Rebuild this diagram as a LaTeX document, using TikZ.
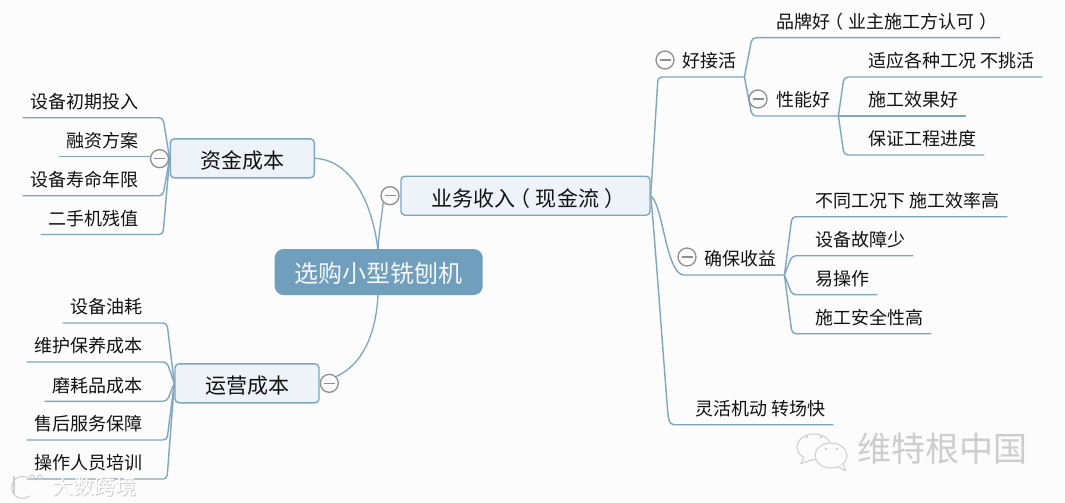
\documentclass[tikz,border=0pt]{standalone}
\usepackage{fontspec}
\setmainfont{Noto Sans CJK SC}
\usetikzlibrary{calc}
\pgfdeclarelayer{back}
\pgfsetlayers{back,main}
\definecolor{pagebg}{HTML}{FCFCFC}
\definecolor{linec}{HTML}{7FA6C0}
\definecolor{boxfill}{HTML}{EEF3F9}
\definecolor{rootfill}{HTML}{709FBD}
\definecolor{inkc}{HTML}{111111}
\definecolor{markc}{HTML}{8F8F8F}
\definecolor{wmark}{HTML}{CDCDCD}
\newcommand{\lpar}{\kern-.27em（\kern.27em}
\newcommand{\rpar}{\kern.27em）\kern-.27em}
\tikzset{
  conn/.style={draw=linec,line width=1.4pt,rounded corners=4pt,line join=round},
  curveconn/.style={draw=linec,line width=1.3pt},
  rootbox/.style={fill=rootfill,rounded corners=9pt,minimum width=208pt,minimum height=46pt,inner sep=0pt,text=white!92!rootfill,text height=24pt,text depth=3pt,font=\fontsize{24}{26}\selectfont},
  branchbox/.style={draw=linec,line width=1.4pt,fill=boxfill,rounded corners=4pt,inner sep=0pt,text=inkc,text height=23pt,text depth=2pt,font=\fontsize{21}{23}\selectfont},
  leafL/.style={anchor=south east,inner xsep=8pt,inner ysep=0pt,minimum height=28pt,text height=14pt,text depth=4pt,text=inkc,font=\fontsize{18}{20}\selectfont},
  leafR/.style={leafL,anchor=south west},
  minus/.style={circle,draw=markc,line width=1.3pt,fill=pagebg,minimum size=18pt,inner sep=0pt,
    path picture={\draw[markc,line width=1.3pt] ([xshift=3.5pt]path picture bounding box.west) -- ([xshift=-3.5pt]path picture bounding box.east);}},
  bubble/.style={draw=wmark,line width=1pt,fill=pagebg},
  wmarktext/.style={text=wmark,inner sep=0pt,font=\fontsize{34}{36}\selectfont},
  wsmall/.style={inner sep=0pt,anchor=west,font=\fontsize{21}{23}\selectfont},
}
\newcommand{\kid}[3]{\draw[conn] (#1) -- (#2 |- #3.south) -- (#3.south east) -- (#3.south west);}
\newcommand{\kidR}[3]{\draw[conn] (#1) -- (#2 |- #3.south) -- (#3.south west) -- (#3.south east);}
\begin{document}
\begin{tikzpicture}[x=1pt,y=-1pt]
\useasboundingbox (0,0) rectangle (1065,503);
\begin{pgfonlayer}{back}
\fill[pagebg] (0,0) rectangle (1065,503);
\end{pgfonlayer}

% root and branches
\node[rootbox] (root) at (378.7,272) {选购小型铣刨机};
\node[branchbox,minimum width=144pt,minimum height=39pt] (zj) at (242.3,158.3) {资金成本};
\node[branchbox,minimum width=144pt,minimum height=39pt] (yy) at (247,383.3) {运营成本};
\node[branchbox,minimum width=249pt,minimum height=39pt] (yw) at (525.5,195.7) {业务收入\lpar 现金流\rpar};

% minus marks
\node[minus] (mzj) at (159.5,158.7) {};
\node[minus] (myy) at (329.3,383.3) {};
\node[minus] (myw) at (390,195.7) {};
\node[minus] (mhj) at (665,60) {};
\node[minus] (mxn) at (758,99) {};
\node[minus] (mqb) at (687,257) {};

% left leaves, upper group
\node[leafL] (a1) at (147,117.7) {设备初期投入};
\node[leafL] (a2) at (147,156.5) {融资方案};
\node[leafL] (a3) at (147,195.7) {设备寿命年限};
\node[leafL] (a4) at (147,234.5) {二手机残值};
% left leaves, lower group
\node[leafL] (b1) at (151,323) {设备油耗};
\node[leafL] (b2) at (151,362) {维护保养成本};
\node[leafL] (b3) at (151,401.3) {磨耗品成本};
\node[leafL] (b4) at (151,440) {售后服务保障};
\node[leafL] (b5) at (151,479) {操作人员培训};
% right: sub-branches
\node[leafR] (hj) at (674,77) {好接活};
\node[leafR] (qb) at (696,275) {确保收益};
\node[leafR] (lh) at (687,424.7) {灵活机动 转场快};
\node[leafR] (pp) at (768,37.7) {品牌好\lpar 业主施工方认可\rpar};
\node[leafR] (xn) at (768,116) {性能好};
\node[leafR] (x1) at (860,77) {适应各种工况 不挑活};
\node[leafR] (x2) at (860,116) {施工效果好};
\node[leafR] (x3) at (860,155) {保证工程进度};
\node[leafR] (q1) at (807,216.7) {不同工况下 施工效率高};
\node[leafR] (q2) at (807,255.7) {设备故障少};
\node[leafR] (q3) at (807,294.7) {易操作};
\node[leafR] (q4) at (807,333.7) {施工安全性高};

\coordinate (ca) at (163,0);
\coordinate (cb) at (167,0);
\coordinate (ch) at (658,0);
\coordinate (cp) at (752,0);
\coordinate (cx) at (844,0);
\coordinate (cq) at (792,0);
\coordinate (cl) at (670,0);

\begin{pgfonlayer}{back}
% root connectors
\draw[curveconn] (378,250) .. controls (372,200) and (350,160) .. (zj.east);
\draw[curveconn] (378,250) .. controls (379,230) and (382,215) .. (myw.south west);
\draw[curveconn] (378,295) .. controls (376,335) and (362,365) .. (myy.north east);
% upper-left group
\kid{zj.west}{ca}{a1}
\draw[conn] (a2.south west) -- (mzj.west |- a2.south);
\kid{zj.west}{ca}{a3}
\kid{zj.west}{ca}{a4}
% lower-left group
\kid{yy.west}{cb}{b1}
\kid{yy.west}{cb}{b2}
\kid{yy.west}{cb}{b3}
\kid{yy.west}{cb}{b4}
\kid{yy.west}{cb}{b5}
% business income
\kidR{yw.east}{ch}{hj}
\draw[conn,rounded corners=0pt] (yw.east) .. controls (663,204) and (666,275) .. (684,275) -- (qb.south west) -- (qb.south east);
\draw[conn] (yw.east) .. controls (655,240) and (662,340) .. (668,415) -- (cl |- lh.south) -- (lh.south east);
% good-to-take-on
\kidR{hj.south east}{cp}{pp}
\kidR{hj.south east}{cp}{xn}
\kidR{xn.south east}{cx}{x1}
\draw[conn] (xn.south east) -- (x2.south east);
\kidR{xn.south east}{cx}{x3}
% revenue assurance
\kidR{qb.south east}{cq}{q1}
\kidR{qb.south east}{cq}{q2}
\kidR{qb.south east}{cq}{q3}
\kidR{qb.south east}{cq}{q4}
\end{pgfonlayer}

% watermark, lower right
\node[wmarktext,anchor=west] (wm) at (857,449) {维特根中国};
\draw[bubble] (814,447) ellipse [x radius=17,y radius=13];
\draw[bubble] (804,457) -- (801,463.5) -- (813,459.5);
\draw[bubble] (831,455.5) ellipse [x radius=16,y radius=12.5];
\draw[bubble] (838,467) -- (845.5,470.5) -- (843,464);
\fill[wmark] (807,437) circle (1.3) (821,437) circle (1.3) (826,449) circle (1.3) (837,449) circle (1.3);

% watermark, lower left
\node[wsmall,text=wmark] (wl2) at (53.2,487.8) {大数跨境};
\node[wsmall,text=white] (wl) at (52,486.6) {大数跨境};
\draw[white,line width=3.2pt,line cap=round] (28,478) arc [start angle=-50,end angle=-310,radius=10];
\draw[wmark,line width=1pt,line cap=round] (29.5,479) arc [start angle=-50,end angle=-310,radius=11];
\draw[wmark,line width=2pt] (14,476) -- (14,494);
\draw[wmark,line width=1pt] (32,477.5) circle (2.5) (40,477.5) circle (2.5);
\end{tikzpicture}
\end{document}
